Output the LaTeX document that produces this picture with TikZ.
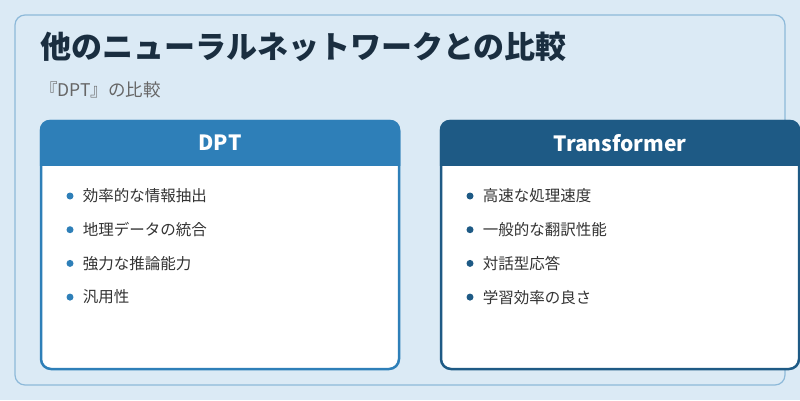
\documentclass[tikz,border=0pt]{standalone}
\usepackage{fontspec}
\newfontfamily\cjk{Noto Sans CJK JP}
\usetikzlibrary{positioning}
\definecolor{bgblue}{HTML}{DBEAF5}
\definecolor{frameblue}{HTML}{8DB9D9}
\definecolor{dptblue}{HTML}{2E7FB8}
\definecolor{trfblue}{HTML}{1E5A85}
\definecolor{titletext}{HTML}{1A2E40}
\definecolor{bodytext}{HTML}{333333}

\begin{document}
\begin{tikzpicture}[x=1pt, y=-1pt,
  every node/.style={font=\cjk},
  cardbody/.style={draw=#1, line width=2.5pt, fill=white, rounded corners=10pt},
  cardhead/.style={fill=#1, rounded corners=10pt},
  headtext/.style={text=white, font=\cjk\fontsize{21}{25}\selectfont\bfseries},
  item/.style={anchor=west, text=bodytext, font=\cjk\fontsize{15.5}{18}\selectfont, inner sep=0pt},
  dot/.style={circle, fill=#1, inner sep=0pt, minimum size=7pt}
]
\useasboundingbox (0,0) rectangle (800,400);
\fill[bgblue] (0,0) rectangle (800,400);
\draw[frameblue, line width=1.2pt, rounded corners=10pt] (15,15) rectangle (785,385);

% Title
\node[anchor=west, text=titletext, font=\cjk\fontsize{31}{36}\selectfont\bfseries, inner sep=0pt] (title) at (40,47) {他のニューラルネットワークとの比較};
\node[anchor=west, text=gray!80!black, font=\cjk\fontsize{17.5}{20}\selectfont, inner sep=0pt] (subtitle) at (40,90) {『DPT』の比較};

% DPT card
\draw[cardbody=dptblue] (41,121) rectangle (399,369);
\begin{scope}
  \clip (39,119) rectangle (401,165);
  \fill[cardhead=dptblue] (39.75,119.75) rectangle (400.25,200);
\end{scope}
\node[headtext] (dpthead) at (220,143) {DPT};
\foreach \t [count=\i] in {効率的な情報抽出, 地理データの統合, 強力な推論能力, 汎用性}{
  \node[dot=dptblue] (dptdot\i) at (70,{197+33.7*(\i-1)-1}) {};
  \node[item, right=9pt of dptdot\i] (dptitem\i) {\t};
}

% Transformer card
\draw[cardbody=trfblue] (441,121) rectangle (799,369);
\begin{scope}
  \clip (439,119) rectangle (801,165);
  \fill[cardhead=trfblue] (439.75,119.75) rectangle (800.25,200);
\end{scope}
\node[headtext] (trfhead) at (620,143) {Transformer};
\foreach \t [count=\i] in {高速な処理速度, 一般的な翻訳性能, 対話型応答, 学習効率の良さ}{
  \node[dot=trfblue] (trfdot\i) at (470,{197+33.7*(\i-1)-1}) {};
  \node[item, right=9pt of trfdot\i] (trfitem\i) {\t};
}
\end{tikzpicture}
\end{document}
